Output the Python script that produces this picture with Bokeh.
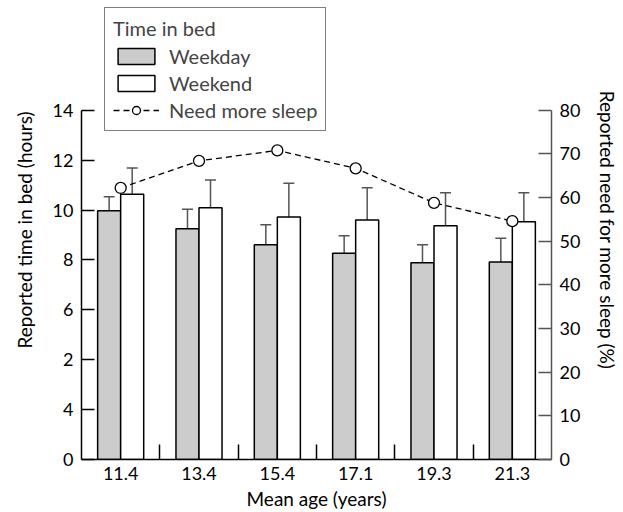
from bokeh.plotting import figure
from bokeh.models import (Range1d, LinearAxis, FixedTicker, ColumnDataSource, Whisker,
                          TeeHead, Legend, LegendItem)
from bokeh.embed import file_html
from bokeh.resources import INLINE

# ---- data ----
ages = ["11.4", "13.4", "15.4", "17.1", "19.3", "21.3"]
weekday = [9.97, 9.25, 8.61, 8.27, 7.89, 7.92]
weekday_err_top = [10.53, 10.03, 9.41, 8.97, 8.61, 8.87]
weekend = [10.63, 10.09, 9.72, 9.60, 9.37, 9.53]
weekend_err_top = [11.69, 11.20, 11.07, 10.89, 10.69, 10.69]
need_more_sleep = [62.2, 68.4, 70.8, 66.7, 58.8, 54.6]
left_ticks = [0, 2, 4, 6, 8, 10, 12, 14]
left_tick_labels = ["0", "4", "2", "6", "8", "10", "12", "14"]
right_ticks = [0, 10, 20, 30, 40, 50, 60, 70, 80]

FONT = "Lato"
FS = "18px"
FSL = "19px"
FSLEG = "20px"
BW = 0.294
YMAX = 18.4
PMAX = YMAX * 80 / 14

centers = [i + 0.5 for i in range(len(ages))]
src = ColumnDataSource(dict(
    c=centers,
    xd=[c - BW / 2 for c in centers],
    xe=[c + BW / 2 for c in centers],
    wd=weekday, wde=weekday_err_top,
    we=weekend, wee=weekend_err_top,
    pct=need_more_sleep,
))

p = figure(width=623, height=512, output_backend="svg", toolbar_location=None,
           x_range=Range1d(0, len(ages)), y_range=Range1d(0, YMAX),
           min_border_left=81, min_border_right=72, min_border_top=0, min_border_bottom=52)
p.extra_y_ranges = {"pct": Range1d(0, PMAX)}
p.grid.visible = False
p.outline_line_color = None
p.background_fill_color = "white"
p.border_fill_color = "white"

# bars
r_wd = p.vbar(x="xd", top="wd", width=BW, source=src, fill_color="#cccccc",
              line_color="black", line_width=1.5)
r_we = p.vbar(x="xe", top="we", width=BW, source=src, fill_color="white",
              line_color="black", line_width=1.5)

# error bars (upper only)
for base, lo, hi in [("xd", "wd", "wde"), ("xe", "we", "wee")]:
    w = Whisker(source=src, base=base, lower=lo, upper=hi, line_color="#555555", line_width=1.5,
                upper_head=TeeHead(size=11, line_color="#555555", line_width=1.5),
                lower_head=None, level="underlay")
    p.add_layout(w)

# line
r_line = p.line(x="c", y="pct", source=src, y_range_name="pct", line_color="black",
                line_width=1.3, line_dash="6 4")
r_pt = p.scatter(x="c", y="pct", source=src, y_range_name="pct", size=11,
                 fill_color="white", line_color="black", line_width=1.3)

# axes
xa = p.xaxis[0]
xa.ticker = FixedTicker(ticks=centers, minor_ticks=[1, 2, 3, 4, 5])
xa.major_label_overrides = {c: a for c, a in zip(centers, ages)}
xa.major_tick_in = 0
xa.major_tick_out = 0
xa.minor_tick_in = 15
xa.minor_tick_out = 0
xa.minor_tick_line_color = "black"
xa.minor_tick_line_width = 1.5
xa.axis_line_color = "black"
xa.axis_line_width = 1.5
xa.axis_label = "Mean age (years)"
xa.major_label_standoff = 7
xa.axis_label_standoff = 4

ya = p.yaxis[0]
ya.ticker = FixedTicker(ticks=left_ticks, minor_ticks=[])
ya.major_label_overrides = {t: l for t, l in zip(left_ticks, left_tick_labels)}
ya.bounds = (0, 14)
ya.major_tick_in = 13
ya.major_tick_out = 0
ya.major_tick_line_width = 1.5
ya.axis_line_width = 1.5
ya.axis_label = "Reported time in bed (hours)"
ya.major_label_standoff = 8
ya.axis_label_standoff = 14

ra = LinearAxis(y_range_name="pct", ticker=FixedTicker(ticks=right_ticks, minor_ticks=[]),
                bounds=(0, 80))
ra.major_tick_in = 13
ra.major_tick_out = 0
ra.major_tick_line_color = "#555555"
ra.major_tick_line_width = 1.5
ra.axis_line_color = "#555555"
ra.axis_line_width = 1.5
ra.axis_label = "Reported need for more sleep (%)"
ra.major_label_standoff = 8
ra.axis_label_standoff = 13
p.add_layout(ra, "right")

for ax in [xa, ya, ra]:
    ax.major_label_text_font = FONT
    ax.major_label_text_font_size = FS
    ax.major_label_text_color = "black"
    ax.axis_label_text_font = FONT
    ax.axis_label_text_font_size = FSL
    ax.axis_label_text_font_style = "normal"
    ax.axis_label_text_color = "black"

legend = Legend(items=[
    LegendItem(label="Weekday", renderers=[r_wd]),
    LegendItem(label="Weekend", renderers=[r_we]),
    LegendItem(label="Need more sleep", renderers=[r_line, r_pt]),
], location=(23, 328), title="Time in bed")
legend.title_text_font = FONT
legend.title_text_font_size = FSLEG
legend.title_text_font_style = "normal"
legend.label_text_font = FONT
legend.label_text_font_size = FSLEG
legend.glyph_width = 46
legend.glyph_height = 20
legend.label_height = 20
legend.label_standoff = 10
legend.padding = 8
legend.spacing = 3
legend.title_standoff = 4
legend.border_line_color = "black"
legend.border_line_width = 1
legend.background_fill_alpha = 1
legend.margin = 0
p.add_layout(legend, "center")

open("out.html", "w").write(file_html(p, INLINE))
